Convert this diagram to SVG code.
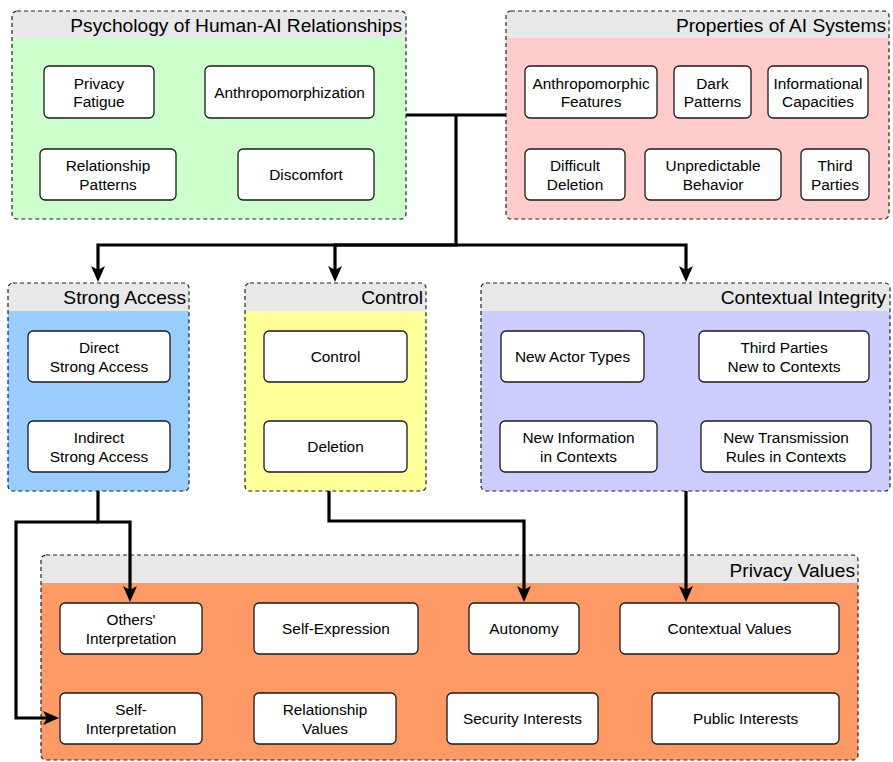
<svg xmlns="http://www.w3.org/2000/svg" width="893" height="762" viewBox="0 0 893 762">
<style>
.gfill{stroke:none}
.ghead{fill:#E8E8E8;stroke:none}
.gline{fill:none;stroke:#222;stroke-width:1.2;stroke-dasharray:4 3}
.gt{font-family:"Liberation Sans",Arial,sans-serif;font-size:19.2px;fill:#000;text-anchor:end}
.n rect{fill:#fff;stroke:#1a1a1a;stroke-width:1.3}
.n text{font-family:"Liberation Sans",Arial,sans-serif;font-size:15.4px;fill:#000;text-anchor:middle}
.c path{fill:none;stroke:#000;stroke-width:3.2}
</style>
<defs>
<marker id="arr" markerUnits="userSpaceOnUse" markerWidth="16" markerHeight="15" viewBox="0 0 16 14" refX="4" refY="7" orient="auto">
<path d="M0,0 L16,7 L0,14 L4,7 Z" fill="#000"/>
</marker>
</defs>
<rect width="893" height="762" fill="#fff"/>

<g id="group-psychology">
<rect class="gfill" x="12" y="11" width="394" height="208" rx="5" fill="#CCFFCC"/>
<path class="ghead" d="M12,38 V16 Q12,11 17,11 H401 Q406,11 406,16 V38 Z"/>
<rect class="gline" x="12" y="11" width="394" height="208" rx="5"/>
<text class="gt" x="402" y="32">Psychology of Human-AI Relationships</text>
</g>
<g id="group-properties">
<rect class="gfill" x="506" y="11" width="383" height="208" rx="5" fill="#FFCCCC"/>
<path class="ghead" d="M506,38 V16 Q506,11 511,11 H884 Q889,11 889,16 V38 Z"/>
<rect class="gline" x="506" y="11" width="383" height="208" rx="5"/>
<text class="gt" x="886" y="32">Properties of AI Systems</text>
</g>
<g id="group-strong-access">
<rect class="gfill" x="8" y="283" width="181" height="208" rx="5" fill="#99CCFF"/>
<path class="ghead" d="M8,311 V288 Q8,283 13,283 H184 Q189,283 189,288 V311 Z"/>
<rect class="gline" x="8" y="283" width="181" height="208" rx="5"/>
<text class="gt" x="186" y="304">Strong Access</text>
</g>
<g id="group-control">
<rect class="gfill" x="245" y="283" width="181" height="208" rx="5" fill="#FFFF99"/>
<path class="ghead" d="M245,311 V288 Q245,283 250,283 H421 Q426,283 426,288 V311 Z"/>
<rect class="gline" x="245" y="283" width="181" height="208" rx="5"/>
<text class="gt" x="423" y="304">Control</text>
</g>
<g id="group-contextual-integrity">
<rect class="gfill" x="481" y="283" width="409" height="208" rx="5" fill="#CCCCFF"/>
<path class="ghead" d="M481,311 V288 Q481,283 486,283 H885 Q890,283 890,288 V311 Z"/>
<rect class="gline" x="481" y="283" width="409" height="208" rx="5"/>
<text class="gt" x="886" y="304">Contextual Integrity</text>
</g>
<g id="group-privacy-values">
<rect class="gfill" x="41" y="555" width="817" height="205" rx="5" fill="#FF9966"/>
<path class="ghead" d="M41,583 V560 Q41,555 46,555 H853 Q858,555 858,560 V583 Z"/>
<rect class="gline" x="41" y="555" width="817" height="205" rx="5"/>
<text class="gt" x="855" y="577">Privacy Values</text>
</g>

<g id="connectors" class="c">
<path d="M406,115 H506"/>
<path d="M456,115 V245 H98 V270" marker-end="url(#arr)"/>
<path d="M456,245 H335 V270" marker-end="url(#arr)"/>
<path d="M456,245 H686 V270" marker-end="url(#arr)"/>
<path d="M98,491 V522 H130 V590" marker-end="url(#arr)"/>
<path d="M98,522 H16 V718 H47" marker-end="url(#arr)"/>
<path d="M329,491 V521 H524 V590" marker-end="url(#arr)"/>
<path d="M686,491 V590" marker-end="url(#arr)"/>
</g>

<g id="n-privacy-fatigue" class="n"><rect x="44" y="66" width="110" height="52" rx="5"/><text x="99" y="88.5">Privacy</text><text x="99" y="107">Fatigue</text></g>
<g id="n-anthropomorphization" class="n"><rect x="205" y="66" width="169" height="52" rx="5"/><text x="289.5" y="97.5">Anthropomorphization</text></g>
<g id="n-relationship-patterns" class="n"><rect x="40" y="149" width="136" height="51" rx="5"/><text x="108" y="171">Relationship</text><text x="108" y="189.5">Patterns</text></g>
<g id="n-discomfort" class="n"><rect x="238" y="149" width="136" height="51" rx="5"/><text x="306" y="180">Discomfort</text></g>

<g id="n-anthropomorphic-features" class="n"><rect x="525" y="66" width="132" height="52" rx="5"/><text x="591" y="88.5">Anthropomorphic</text><text x="591" y="107">Features</text></g>
<g id="n-dark-patterns" class="n"><rect x="674" y="66" width="77" height="52" rx="5"/><text x="712.5" y="88.5">Dark</text><text x="712.5" y="107">Patterns</text></g>
<g id="n-informational-capacities" class="n"><rect x="768" y="66" width="100" height="52" rx="5"/><text x="818" y="88.5">Informational</text><text x="818" y="107">Capacities</text></g>
<g id="n-difficult-deletion" class="n"><rect x="525" y="149" width="100" height="51" rx="5"/><text x="575" y="171">Difficult</text><text x="575" y="189.5">Deletion</text></g>
<g id="n-unpredictable-behavior" class="n"><rect x="645" y="149" width="136" height="51" rx="5"/><text x="713" y="171">Unpredictable</text><text x="713" y="189.5">Behavior</text></g>
<g id="n-third-parties" class="n"><rect x="801" y="149" width="68" height="51" rx="5"/><text x="835" y="171">Third</text><text x="835" y="189.5">Parties</text></g>

<g id="n-direct-strong-access" class="n"><rect x="28" y="331" width="142" height="51" rx="5"/><text x="99" y="353">Direct</text><text x="99" y="371.5">Strong Access</text></g>
<g id="n-indirect-strong-access" class="n"><rect x="28" y="421" width="142" height="51" rx="5"/><text x="99" y="443">Indirect</text><text x="99" y="461.5">Strong Access</text></g>

<g id="n-control" class="n"><rect x="264" y="331" width="143" height="51" rx="5"/><text x="335.5" y="362">Control</text></g>
<g id="n-deletion" class="n"><rect x="264" y="421" width="143" height="51" rx="5"/><text x="335.5" y="452">Deletion</text></g>

<g id="n-new-actor-types" class="n"><rect x="501" y="331" width="143" height="51" rx="5"/><text x="572.5" y="362">New Actor Types</text></g>
<g id="n-third-parties-new" class="n"><rect x="699" y="331" width="170" height="51" rx="5"/><text x="784" y="353">Third Parties</text><text x="784" y="371.5">New to Contexts</text></g>
<g id="n-new-information" class="n"><rect x="500" y="421" width="157" height="51" rx="5"/><text x="578.5" y="443">New Information</text><text x="578.5" y="461.5">in Contexts</text></g>
<g id="n-new-transmission" class="n"><rect x="701" y="421" width="170" height="51" rx="5"/><text x="786" y="443">New Transmission</text><text x="786" y="461.5">Rules in Contexts</text></g>

<g id="n-others-interpretation" class="n"><rect x="60" y="603" width="142" height="51" rx="5"/><text x="131" y="625">Others'</text><text x="131" y="643.5">Interpretation</text></g>
<g id="n-self-expression" class="n"><rect x="254" y="603" width="164" height="51" rx="5"/><text x="336" y="634">Self-Expression</text></g>
<g id="n-autonomy" class="n"><rect x="469" y="603" width="110" height="51" rx="5"/><text x="524" y="634">Autonomy</text></g>
<g id="n-contextual-values" class="n"><rect x="620" y="603" width="219" height="51" rx="5"/><text x="729.5" y="634">Contextual Values</text></g>
<g id="n-self-interpretation" class="n"><rect x="60" y="693" width="142" height="51" rx="5"/><text x="131" y="715">Self-</text><text x="131" y="733.5">Interpretation</text></g>
<g id="n-relationship-values" class="n"><rect x="254" y="693" width="142" height="51" rx="5"/><text x="325" y="715">Relationship</text><text x="325" y="733.5">Values</text></g>
<g id="n-security-interests" class="n"><rect x="447" y="693" width="151" height="51" rx="5"/><text x="522.5" y="724">Security Interests</text></g>
<g id="n-public-interests" class="n"><rect x="652" y="693" width="187" height="51" rx="5"/><text x="745.5" y="724">Public Interests</text></g>
</svg>
